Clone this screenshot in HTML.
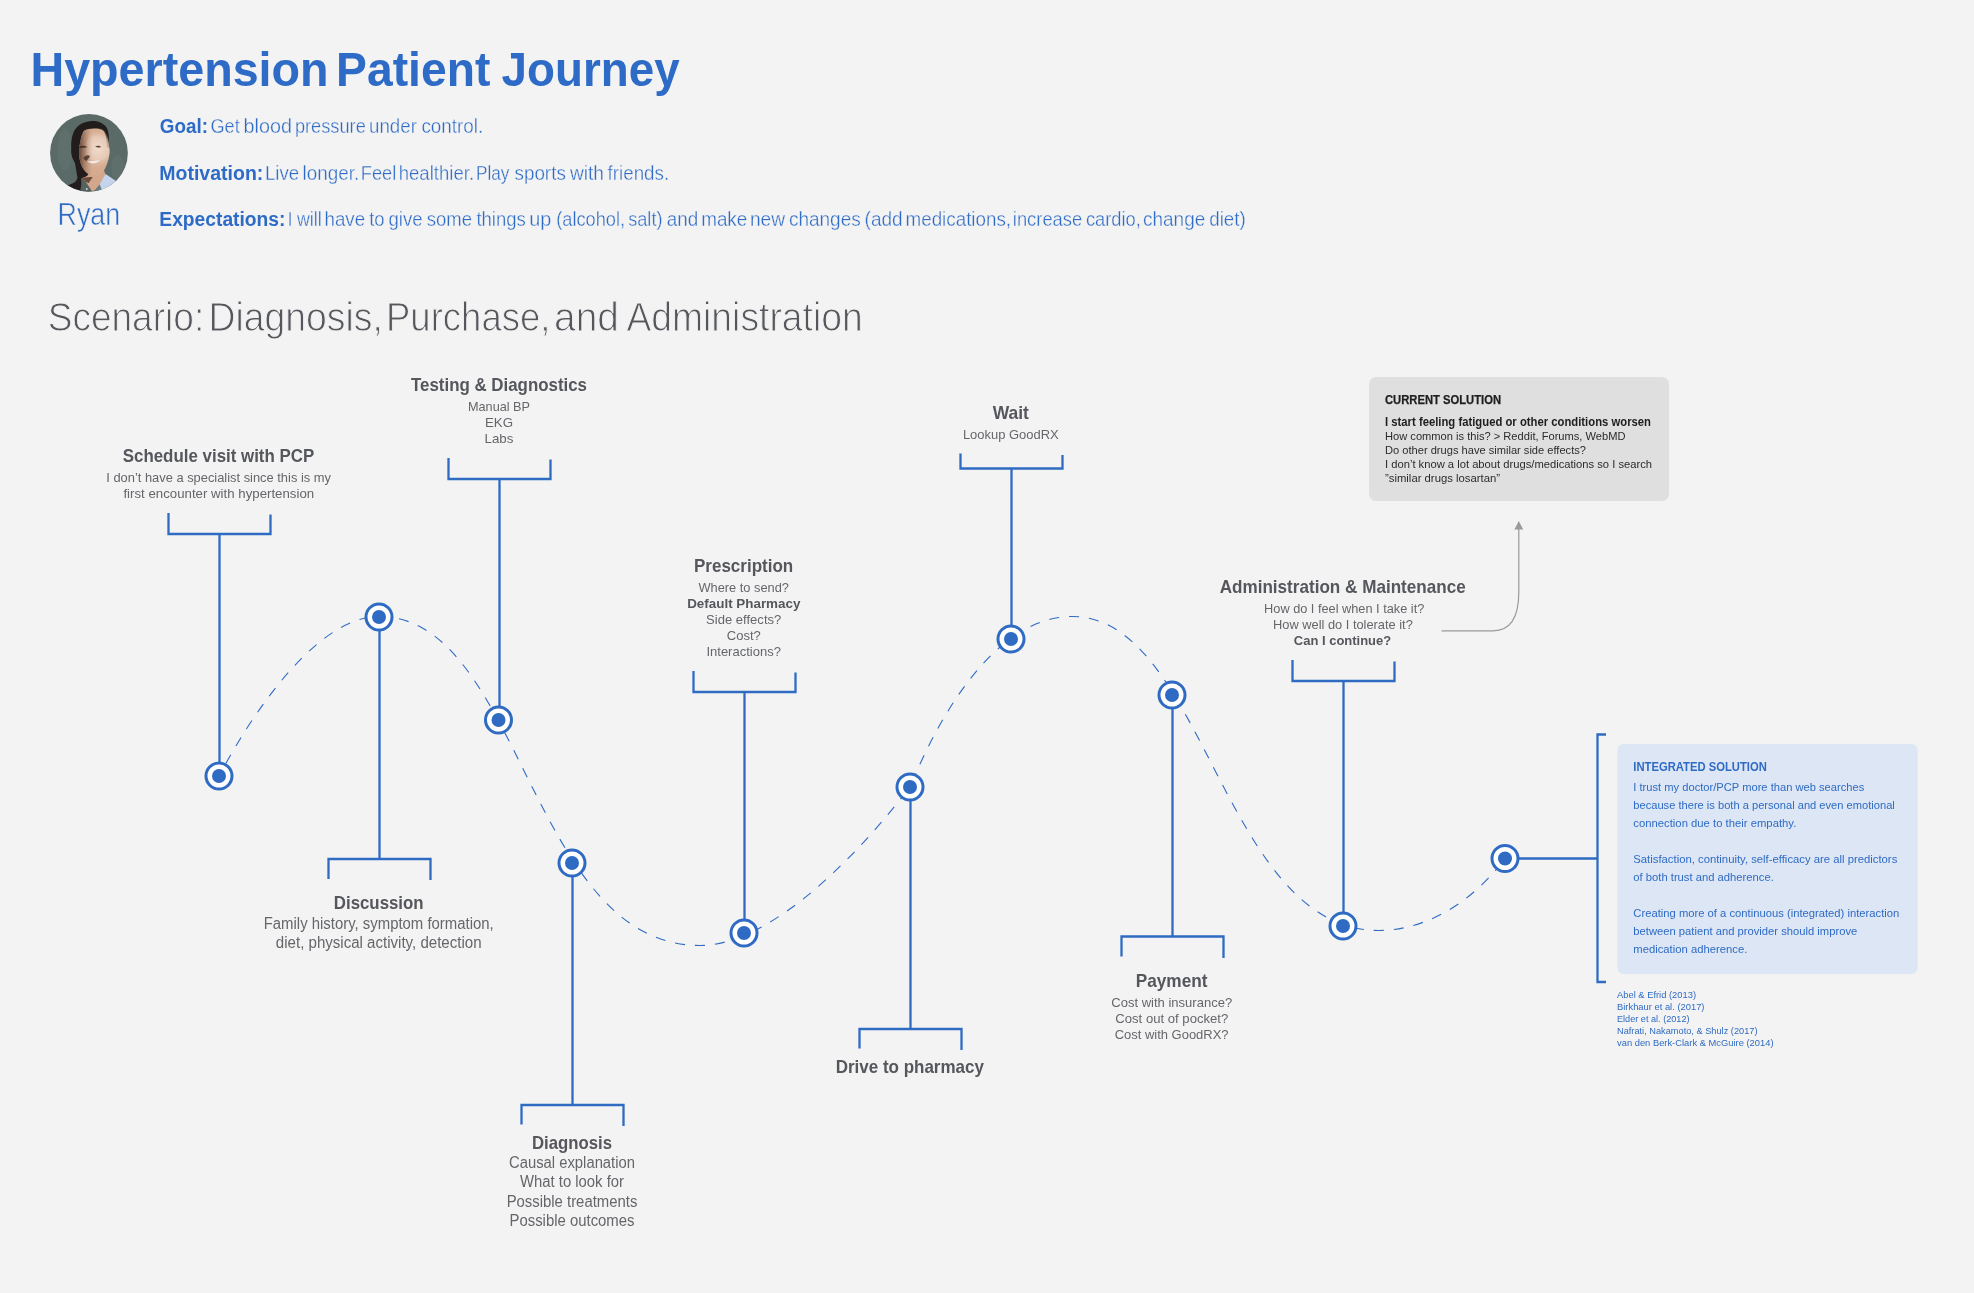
<!DOCTYPE html>
<html lang="en">
<head>
<meta charset="utf-8">
<title>Hypertension Patient Journey</title>
<style>
html,body{margin:0;padding:0;background:#f3f3f3;}
body{width:1974px;height:1293px;overflow:hidden;font-family:"Liberation Sans",sans-serif;}
svg{display:block;will-change:transform;}
text{font-family:"Liberation Sans",sans-serif;}
.b{font-weight:700;}
.h{font-weight:700;font-size:18.2px;fill:#55575c;text-anchor:middle;}
.s{font-size:13.3px;fill:#65666a;text-anchor:middle;}
.s15{font-size:15.8px;fill:#65666a;text-anchor:middle;}
.sb{font-weight:700;font-size:13.3px;fill:#55575c;text-anchor:middle;}
.ln{stroke:#2f6bc2;stroke-width:2.3;fill:none;}
.blue{fill:#2f6bc2;}
</style>
</head>
<body>
<svg width="1974" height="1293" viewBox="0 0 1974 1293">
<rect width="1974" height="1293" fill="#f3f3f3"/>

<!-- HEADER -->
<g id="header">
<text y="86" font-size="49" font-weight="700" fill="#2d6bc6"><tspan x="30.5" textLength="298.0" lengthAdjust="spacingAndGlyphs">Hypertension</tspan> <tspan x="336.1" textLength="154.2" lengthAdjust="spacingAndGlyphs">Patient</tspan> <tspan x="501.6" textLength="178.0" lengthAdjust="spacingAndGlyphs">Journey</tspan></text>
<text y="133" font-size="20" font-weight="700" fill="#2d6bc6"><tspan x="159.8" textLength="48.2" lengthAdjust="spacingAndGlyphs">Goal:</tspan></text>
<text y="133" font-size="20.5" fill="#2d6bc6" stroke="#f3f3f3" stroke-width="0.35"><tspan x="210.4" textLength="29.3" lengthAdjust="spacingAndGlyphs">Get</tspan> <tspan x="243.5" textLength="48.4" lengthAdjust="spacingAndGlyphs">blood</tspan> <tspan x="294.9" textLength="70.9" lengthAdjust="spacingAndGlyphs">pressure</tspan> <tspan x="369.0" textLength="47.9" lengthAdjust="spacingAndGlyphs">under</tspan> <tspan x="421.4" textLength="61.8" lengthAdjust="spacingAndGlyphs">control.</tspan></text>
<text y="180" font-size="20" font-weight="700" fill="#2d6bc6"><tspan x="159.3" textLength="104.0" lengthAdjust="spacingAndGlyphs">Motivation:</tspan></text>
<text y="180" font-size="20.5" fill="#2d6bc6" stroke="#f3f3f3" stroke-width="0.35"><tspan x="265.0" textLength="34.2" lengthAdjust="spacingAndGlyphs">Live</tspan> <tspan x="302.6" textLength="56.7" lengthAdjust="spacingAndGlyphs">longer.</tspan> <tspan x="360.8" textLength="35.5" lengthAdjust="spacingAndGlyphs">Feel</tspan> <tspan x="398.7" textLength="75.4" lengthAdjust="spacingAndGlyphs">healthier.</tspan> <tspan x="476.0" textLength="33.4" lengthAdjust="spacingAndGlyphs">Play</tspan> <tspan x="514.5" textLength="51.3" lengthAdjust="spacingAndGlyphs">sports</tspan> <tspan x="570.0" textLength="34.0" lengthAdjust="spacingAndGlyphs">with</tspan> <tspan x="607.6" textLength="61.5" lengthAdjust="spacingAndGlyphs">friends.</tspan></text>
<text y="226" font-size="20" font-weight="700" fill="#2d6bc6"><tspan x="159.3" textLength="126.2" lengthAdjust="spacingAndGlyphs">Expectations:</tspan></text>
<text y="226" font-size="20.5" fill="#2d6bc6" stroke="#f3f3f3" stroke-width="0.35"><tspan x="287.7" textLength="4.7" lengthAdjust="spacingAndGlyphs">I</tspan> <tspan x="296.9" textLength="24.7" lengthAdjust="spacingAndGlyphs">will</tspan> <tspan x="324.5" textLength="40.6" lengthAdjust="spacingAndGlyphs">have</tspan> <tspan x="369.2" textLength="15.4" lengthAdjust="spacingAndGlyphs">to</tspan> <tspan x="388.5" textLength="34.2" lengthAdjust="spacingAndGlyphs">give</tspan> <tspan x="426.7" textLength="45.3" lengthAdjust="spacingAndGlyphs">some</tspan> <tspan x="476.4" textLength="49.5" lengthAdjust="spacingAndGlyphs">things</tspan> <tspan x="529.3" textLength="22.1" lengthAdjust="spacingAndGlyphs">up</tspan> <tspan x="556.2" textLength="68.9" lengthAdjust="spacingAndGlyphs">(alcohol,</tspan> <tspan x="628.2" textLength="34.3" lengthAdjust="spacingAndGlyphs">salt)</tspan> <tspan x="666.8" textLength="31.5" lengthAdjust="spacingAndGlyphs">and</tspan> <tspan x="701.2" textLength="46.1" lengthAdjust="spacingAndGlyphs">make</tspan> <tspan x="749.9" textLength="35.2" lengthAdjust="spacingAndGlyphs">new</tspan> <tspan x="788.9" textLength="71.9" lengthAdjust="spacingAndGlyphs">changes</tspan> <tspan x="864.6" textLength="38.1" lengthAdjust="spacingAndGlyphs">(add</tspan> <tspan x="905.5" textLength="105.6" lengthAdjust="spacingAndGlyphs">medications,</tspan> <tspan x="1012.8" textLength="69.4" lengthAdjust="spacingAndGlyphs">increase</tspan> <tspan x="1085.9" textLength="54.9" lengthAdjust="spacingAndGlyphs">cardio,</tspan> <tspan x="1143.0" textLength="62.3" lengthAdjust="spacingAndGlyphs">change</tspan> <tspan x="1209.2" textLength="36.6" lengthAdjust="spacingAndGlyphs">diet)</tspan></text>
<text y="330.5" font-size="40.5" fill="#55575c" stroke="#f3f3f3" stroke-width="1.0"><tspan x="47.7" textLength="156.5" lengthAdjust="spacingAndGlyphs">Scenario:</tspan> <tspan x="208.5" textLength="174.4" lengthAdjust="spacingAndGlyphs">Diagnosis,</tspan> <tspan x="386.0" textLength="164.4" lengthAdjust="spacingAndGlyphs">Purchase,</tspan> <tspan x="554.1" textLength="64.9" lengthAdjust="spacingAndGlyphs">and</tspan> <tspan x="626.4" textLength="236.3" lengthAdjust="spacingAndGlyphs">Administration</tspan></text>
<text x="88.9" y="224.5" font-size="31" fill="#2d6bc6" stroke="#f3f3f3" stroke-width="0.55" text-anchor="middle" textLength="62.6" lengthAdjust="spacingAndGlyphs">Ryan</text>
</g>

<!-- AVATAR -->
<g id="avatar">
<defs><clipPath id="av"><circle cx="646" cy="645" r="559"/></clipPath><radialGradient id="avh" gradientUnits="userSpaceOnUse" cx="770" cy="580" r="300"><stop offset="0" stop-color="#f0dccd"/><stop offset="0.55" stop-color="#ecd3c2" stop-opacity="0.75"/><stop offset="1" stop-color="#d6ab90" stop-opacity="0"/></radialGradient><linearGradient id="avs" gradientUnits="userSpaceOnUse" x1="500" y1="0" x2="700" y2="0"><stop offset="0" stop-color="#5e4033" stop-opacity="1"/><stop offset="1" stop-color="#b98f76" stop-opacity="0"/></linearGradient><filter id="avb" x="-5%" y="-5%" width="110%" height="110%"><feGaussianBlur stdDeviation="7"/></filter></defs>
<g transform="translate(44 108) scale(0.06959)">
<g clip-path="url(#av)">
<rect x="0" y="0" width="1293" height="1293" fill="#5a6b67"/>
<g filter="url(#avb)">
<ellipse cx="300" cy="600" rx="110" ry="300" fill="#5f706c"/>
<ellipse cx="1060" cy="860" rx="90" ry="180" fill="#5f706c"/>
<path d="M470 280 C540 200 700 165 800 205 C890 240 925 300 930 400 L937 565 L850 600 L600 700 L560 900 L660 1000 L520 1010 L470 820 C420 760 380 680 392 580 C385 460 410 340 470 280 Z" fill="#201e1d"/>
<path d="M440 760 L660 960 L700 1000 L640 1200 L560 1200 C480 1185 400 1160 335 1110 C420 1095 470 1060 480 1000 Z" fill="#201e1d"/>
<path d="M530 1010 L610 1050 L720 1200 L580 1200 C560 1195 540 1190 520 1185 C540 1120 540 1060 530 1010 Z" fill="#57625f"/>
<path d="M640 950 C700 985 770 960 860 890 L885 960 L830 1080 L745 1175 L690 1195 L600 1060 L540 1010 C580 1000 620 990 640 950 Z" fill="#d2a78c"/>
<path d="M540 1010 C600 990 640 990 700 990 L640 1080 L600 1060 Z" fill="#6b4d3e"/>
<path d="M885 950 L1030 1045 C990 1105 905 1165 820 1190 L800 1100 Z" fill="#c4d4ec"/>
<path d="M800 1095 L835 1190 L760 1205 L735 1175 Z" fill="#6c7b82"/>
<path d="M570 330 C640 290 760 285 840 315 C890 350 900 450 905 560 C940 560 955 600 938 680 C925 760 890 860 860 900 C820 950 760 985 700 978 C640 965 570 900 540 830 C510 760 500 680 505 600 C505 560 510 540 520 500 C530 430 540 380 570 330 Z" fill="#d6ab90"/>
<ellipse cx="770" cy="600" rx="170" ry="330" fill="url(#avh)"/>
<path d="M570 330 C640 290 700 288 720 290 L720 975 C650 965 570 900 540 830 C510 760 500 680 505 600 C505 560 510 540 520 500 C530 430 540 380 570 330 Z" fill="url(#avs)"/>

<path d="M565 715 C595 675 640 665 662 695 C645 720 625 750 605 762 C585 748 570 735 565 715 Z" fill="#4a342a" opacity="0.85"/>
<path d="M500 560 C540 535 590 540 625 565 C590 570 540 575 500 575 Z" fill="#4a3529"/>
<path d="M735 555 C765 535 800 540 820 560 C795 572 760 572 735 555 Z" fill="#5a4132"/>
<path d="M625 765 C680 770 740 765 800 745 C780 800 680 815 625 765 Z" fill="#f4eeea"/>
<circle cx="615" cy="1165" r="14" fill="#cfd6d6"/>
</g>
</g>
</g>
</g>

<!--DIAGRAM-START-->
<!-- CURVE -->
<path d="M219 776 C255.96 706.16 319.48 616.5 379 616.5 C521.71 616.5 529.57 945.5 700 945.5 C760.93 945.5 840.93 876.77 910 787 C951.67 685.93 1008.65 616.5 1072 616.5 C1204.96 616.5 1222.37 930.5 1379 930.5 C1419.84 930.5 1468.07 907.93 1505 858.5" fill="none" stroke="#2f6bc4" stroke-width="1.1" stroke-dasharray="10 10" stroke-dashoffset="5.5"/>

<!-- STEMS + BRACKETS -->
<g class="ln">
<!-- schedule -->
<path d="M168.5 513 V534 H270.5 V514.5 M219.5 534 V776"/>
<!-- discussion -->
<path d="M328.5 879 V859 H430.5 V880 M379.5 859 V617"/>
<!-- testing -->
<path d="M448.5 458 V479 H550.5 V459.5 M499.5 479 V720"/>
<!-- diagnosis -->
<path d="M521.5 1124.5 V1105 H623.5 V1126 M572.5 1105 V863"/>
<!-- prescription -->
<path d="M693.5 671 V692 H795.5 V672.5 M744.5 692 V933"/>
<!-- drive -->
<path d="M859.5 1048.5 V1029 H961.5 V1050 M910.5 1029 V787"/>
<!-- wait -->
<path d="M960.5 453.5 V468.5 H1062.5 V455 M1011.5 468.5 V639"/>
<!-- payment -->
<path d="M1121.5 956.5 V936.5 H1223.5 V958 M1172.5 936.5 V695"/>
<!-- admin -->
<path d="M1292.5 660 V681 H1394.5 V661.5 M1343.5 681 V926"/>
<!-- integrated -->
<path d="M1505 858.5 H1597.5 M1606 734.5 H1597.5 V982 H1606"/>
</g>

<!-- NODES -->
<g id="nodes" fill="#fff" stroke="#2f6bc2" stroke-width="3">
<circle cx="219" cy="776" r="13"/>
<circle cx="379" cy="617" r="13"/>
<circle cx="498.5" cy="720" r="13"/>
<circle cx="572" cy="863" r="13"/>
<circle cx="744" cy="933" r="13"/>
<circle cx="910" cy="787" r="13"/>
<circle cx="1011" cy="639" r="13"/>
<circle cx="1172" cy="695" r="13"/>
<circle cx="1343" cy="926" r="13"/>
<circle cx="1505" cy="858.5" r="13"/>
</g>
<g class="blue">
<circle cx="219" cy="776" r="7"/>
<circle cx="379" cy="617" r="7"/>
<circle cx="498.5" cy="720" r="7"/>
<circle cx="572" cy="863" r="7"/>
<circle cx="744" cy="933" r="7"/>
<circle cx="910" cy="787" r="7"/>
<circle cx="1011" cy="639" r="7"/>
<circle cx="1172" cy="695" r="7"/>
<circle cx="1343" cy="926" r="7"/>
<circle cx="1505" cy="858.5" r="7"/>
</g>

<!-- LABELS -->
<g id="labels">
<text class="h" x="218.5" y="461.5" textLength="191.5" lengthAdjust="spacingAndGlyphs">Schedule visit with PCP</text>
<text class="s" x="218.6" y="481.7" textLength="224.7" lengthAdjust="spacingAndGlyphs">I don’t have a specialist since this is my</text>
<text class="s" x="218.8" y="497.8" textLength="190.7" lengthAdjust="spacingAndGlyphs">first encounter with hypertension</text>

<text class="h" x="499" y="390.8" textLength="176" lengthAdjust="spacingAndGlyphs">Testing &amp; Diagnostics</text>
<text class="s" x="499" y="410.6" textLength="62" lengthAdjust="spacingAndGlyphs">Manual BP</text>
<text class="s" x="499" y="426.6">EKG</text>
<text class="s" x="499" y="442.7">Labs</text>

<text class="h" x="378.7" y="908.5" textLength="89.7" lengthAdjust="spacingAndGlyphs">Discussion</text>
<text class="s15" x="378.7" y="929" textLength="230" lengthAdjust="spacingAndGlyphs">Family history, symptom formation,</text>
<text class="s15" x="378.7" y="948" textLength="205.7" lengthAdjust="spacingAndGlyphs">diet, physical activity, detection</text>

<text class="h" x="572" y="1149" textLength="80" lengthAdjust="spacingAndGlyphs">Diagnosis</text>
<text class="s15" x="572" y="1168.4" textLength="126" lengthAdjust="spacingAndGlyphs">Causal explanation</text>
<text class="s15" x="572" y="1187.4" textLength="104" lengthAdjust="spacingAndGlyphs">What to look for</text>
<text class="s15" x="572" y="1206.6" textLength="130.7" lengthAdjust="spacingAndGlyphs">Possible treatments</text>
<text class="s15" x="572" y="1225.6" textLength="125" lengthAdjust="spacingAndGlyphs">Possible outcomes</text>

<text class="h" x="743.6" y="572" textLength="99.3" lengthAdjust="spacingAndGlyphs">Prescription</text>
<text class="s" x="743.7" y="591.7" textLength="90.6" lengthAdjust="spacingAndGlyphs">Where to send?</text>
<text class="sb" x="743.8" y="607.7" textLength="113.2" lengthAdjust="spacingAndGlyphs">Default Pharmacy</text>
<text class="s" x="743.7" y="623.8" textLength="75.2" lengthAdjust="spacingAndGlyphs">Side effects?</text>
<text class="s" x="743.8" y="639.9" textLength="34" lengthAdjust="spacingAndGlyphs">Cost?</text>
<text class="s" x="743.7" y="655.8" textLength="74.6" lengthAdjust="spacingAndGlyphs">Interactions?</text>

<text class="h" x="909.8" y="1073" textLength="148.3" lengthAdjust="spacingAndGlyphs">Drive to pharmacy</text>

<text class="h" x="1010.8" y="419.2" textLength="36.2" lengthAdjust="spacingAndGlyphs">Wait</text>
<text class="s" x="1010.8" y="439" textLength="95.8" lengthAdjust="spacingAndGlyphs">Lookup GoodRX</text>

<text class="h" x="1171.6" y="986.8" textLength="71.8" lengthAdjust="spacingAndGlyphs">Payment</text>
<text class="s" x="1171.7" y="1006.6" textLength="120.9" lengthAdjust="spacingAndGlyphs">Cost with insurance?</text>
<text class="s" x="1171.8" y="1022.7" textLength="113" lengthAdjust="spacingAndGlyphs">Cost out of pocket?</text>
<text class="s" x="1171.6" y="1038.6" textLength="113.9" lengthAdjust="spacingAndGlyphs">Cost with GoodRX?</text>

<text class="h" x="1342.7" y="592.8" textLength="246" lengthAdjust="spacingAndGlyphs">Administration &amp; Maintenance</text>
<text class="s" x="1344.2" y="612.8" textLength="160.2" lengthAdjust="spacingAndGlyphs">How do I feel when I take it?</text>
<text class="s" x="1342.9" y="628.9" textLength="139.8" lengthAdjust="spacingAndGlyphs">How well do I tolerate it?</text>
<text class="sb" x="1342.5" y="644.7" textLength="97.3" lengthAdjust="spacingAndGlyphs">Can I continue?</text>
</g>

<!-- CURRENT SOLUTION -->
<g id="current">
<rect x="1369" y="377" width="300" height="124" rx="7" fill="#dfdfdf"/>
<text x="1385" y="404" font-size="12.5" font-weight="700" fill="#1e1e1e" stroke="#1e1e1e" stroke-width="0.25" textLength="116" lengthAdjust="spacingAndGlyphs">CURRENT SOLUTION</text>
<text x="1385" y="426" font-size="12" font-weight="700" fill="#1e1e1e" textLength="266" lengthAdjust="spacingAndGlyphs">I start feeling fatigued or other conditions worsen</text>
<text x="1385" y="440" font-size="11.4" fill="#2b2b2b" textLength="240.5" lengthAdjust="spacingAndGlyphs">How common is this? &gt; Reddit, Forums, WebMD</text>
<text x="1385" y="453.8" font-size="11.4" fill="#2b2b2b" textLength="201" lengthAdjust="spacingAndGlyphs">Do other drugs have similar side effects?</text>
<text x="1385" y="467.9" font-size="11.4" fill="#2b2b2b" textLength="267" lengthAdjust="spacingAndGlyphs">I don’t know a lot about drugs/medications so I search</text>
<text x="1385" y="481.8" font-size="11.4" fill="#2b2b2b" textLength="115" lengthAdjust="spacingAndGlyphs">”similar drugs losartan”</text>
<path d="M1441.5 630.8 H1493 C1512 630.8 1518.8 614 1518.8 592 V529" fill="none" stroke="#9a9a9c" stroke-width="1.2"/>
<path d="M1518.8 521 L1523.2 529.5 H1514.4 Z" fill="#9a9a9c"/>
</g>

<!-- INTEGRATED SOLUTION -->
<g id="integrated" fill="#2f6bc4">
<rect x="1617.5" y="744" width="300" height="230" rx="6" fill="#dce6f5"/>
<text x="1633.3" y="771" font-size="12" font-weight="700" textLength="133.5" lengthAdjust="spacingAndGlyphs">INTEGRATED SOLUTION</text>
<g font-size="11">
<text x="1633.3" y="791" textLength="231" lengthAdjust="spacingAndGlyphs">I trust my doctor/PCP more than web searches</text>
<text x="1633.3" y="809.3" textLength="261.5" lengthAdjust="spacingAndGlyphs">because there is both a personal and even emotional</text>
<text x="1633.3" y="827.3" textLength="163" lengthAdjust="spacingAndGlyphs">connection due to their empathy.</text>
<text x="1633.3" y="863.3" textLength="264" lengthAdjust="spacingAndGlyphs">Satisfaction, continuity, self-efficacy are all predictors</text>
<text x="1633.3" y="881.2" textLength="140.5" lengthAdjust="spacingAndGlyphs">of both trust and adherence.</text>
<text x="1633.3" y="917.3" textLength="266" lengthAdjust="spacingAndGlyphs">Creating more of a continuous (integrated) interaction</text>
<text x="1633.3" y="935.2" textLength="224" lengthAdjust="spacingAndGlyphs">between patient and provider should improve</text>
<text x="1633.3" y="953.3" textLength="114" lengthAdjust="spacingAndGlyphs">medication adherence.</text>
</g>
<g font-size="9">
<text x="1617" y="998" textLength="79" lengthAdjust="spacingAndGlyphs">Abel &amp; Efrid (2013)</text>
<text x="1617" y="1010" textLength="87.5" lengthAdjust="spacingAndGlyphs">Birkhaur et al.  (2017)</text>
<text x="1617" y="1022" textLength="72.5" lengthAdjust="spacingAndGlyphs">Elder et al. (2012)</text>
<text x="1617" y="1034" textLength="140.5" lengthAdjust="spacingAndGlyphs">Nafrati, Nakamoto, &amp; Shulz (2017)</text>
<text x="1617" y="1046" textLength="156.5" lengthAdjust="spacingAndGlyphs">van den Berk-Clark &amp; McGuire (2014)</text>
</g>
</g>

<!--DIAGRAM-END-->
</svg>
</body>
</html>
